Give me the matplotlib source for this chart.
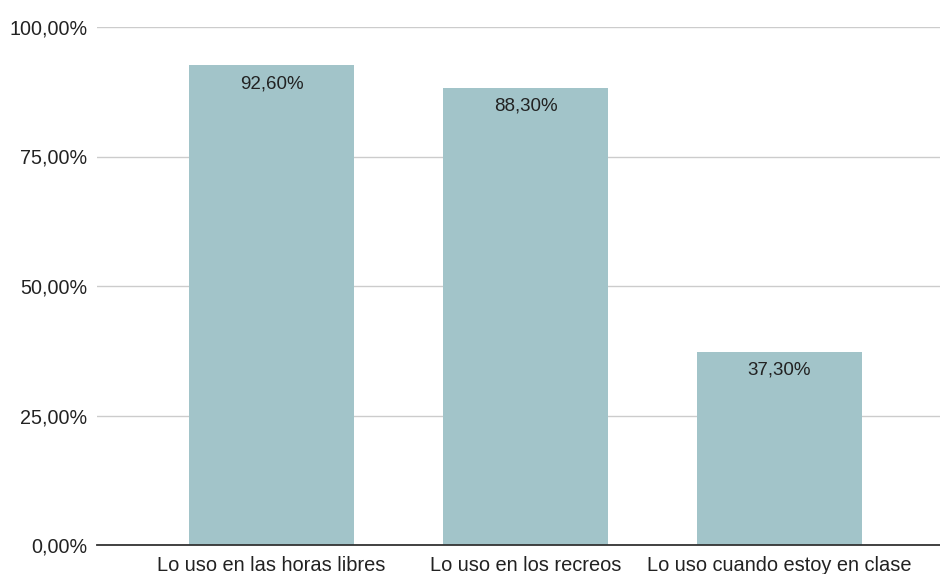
import numpy as np
import matplotlib.pyplot as plt
from matplotlib.ticker import FuncFormatter

plt.rcParams['font.family'] = ['Liberation Sans', 'DejaVu Sans']

categories = ["Lo uso en las horas libres", "Lo uso en los recreos", "Lo uso cuando estoy en clase"]
values = [92.6, 88.3, 37.3]
y_ticks = [0, 25, 50, 75, 100]

bar_color = '#A2C4C9'

fig = plt.figure(figsize=(9.4, 5.74), dpi=100)
ax = fig.add_axes([97 / 940, 29 / 574, 843 / 940, 518 / 574])

x = np.arange(len(categories))
bars = ax.bar(x, values, width=0.65, color=bar_color, zorder=2)

for b, v in zip(bars, values):
    ax.annotate(f"{v:.2f}%".replace('.', ','), (b.get_x() + b.get_width() / 2, v),
                xytext=(0, -7), textcoords='offset points', ha='center', va='top',
                fontsize=13.5, color='#222222', zorder=3)

ax.set_xlim(-0.687, 2.632)
ax.set_ylim(0, 100)
ax.set_yticks(y_ticks)
ax.yaxis.set_major_formatter(FuncFormatter(lambda v, p: f"{v:.2f}%".replace('.', ',')))
ax.set_xticks(x)
ax.set_xticklabels(categories)
ax.tick_params(axis='y', length=0, pad=7, labelsize=14.2, labelcolor='#222222')
ax.tick_params(axis='x', length=0, pad=8, labelsize=14.4, labelcolor='#222222')

ax.grid(axis='y', color='#cccccc', linewidth=1, zorder=0)
for s in ['top', 'right', 'left']:
    ax.spines[s].set_visible(False)
ax.spines['bottom'].set_color('#333333')
ax.spines['bottom'].set_linewidth(1.3)
ax.spines['bottom'].set_zorder(4)

fig.savefig('out.png', dpi=100)
